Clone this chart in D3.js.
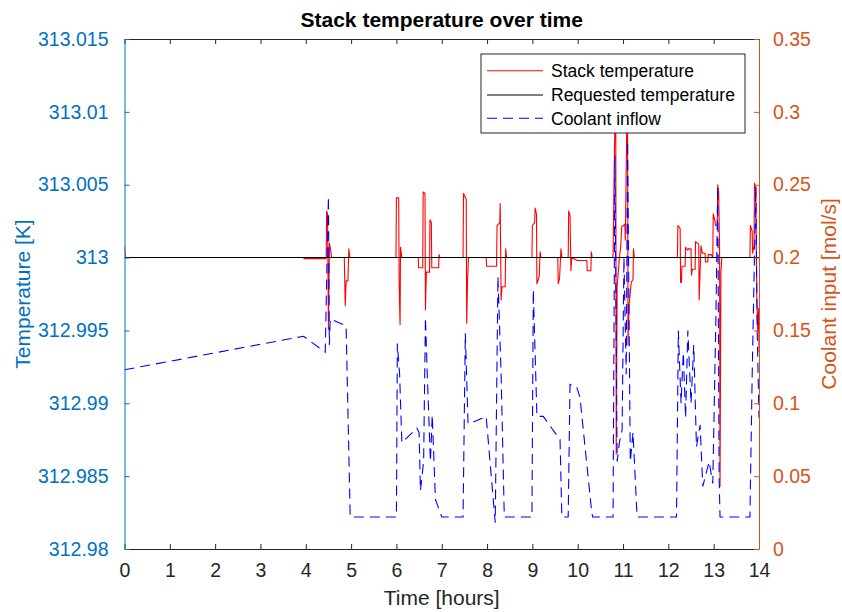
<!DOCTYPE html>
<html>
<head>
<meta charset="utf-8">
<script src="https://cdn.jsdelivr.net/npm/d3@7"></script>
<style>
  html, body { margin: 0; padding: 0; background: #fff; }
  svg { display: block; font-family: "Liberation Sans", Arial, Helvetica, sans-serif; }
</style>
</head>
<body>
<svg id="chart" width="842" height="612"></svg>
<script>
// ---------- data ----------
const stackTime = [0, 0.02, 3.95, 3.96, 4.45, 4.46, 4.48, 4.50, 4.52, 4.55, 4.57, 4.85, 4.87, 4.89, 4.93, 4.95, 4.97,
  5.99, 6.00, 6.05, 6.06, 6.08, 6.09, 6.12, 6.48, 6.49, 6.58, 6.59, 6.63, 6.64, 6.66, 6.73, 6.74, 6.77, 6.78, 6.93, 6.94, 6.96,
  7.47, 7.48, 7.54, 7.55, 7.57, 7.59, 7.98, 7.99, 8.21, 8.22, 8.28, 8.29, 8.31, 8.33, 8.40, 8.41, 8.43,
  8.99, 9.00, 9.05, 9.06, 9.09, 9.10, 9.15, 9.17, 9.19, 9.56, 9.57, 9.60, 9.63, 9.65, 9.79, 9.80, 9.83, 9.85, 9.87,
  9.99, 10.20, 10.21, 10.29, 10.30, 10.32, 10.77, 10.78, 10.80, 10.82, 10.84, 10.85, 10.87, 10.92, 10.95, 10.97, 11.04,
  11.05, 11.08, 11.10, 11.11, 11.13, 11.18, 11.22, 11.23, 11.25,
  12.20, 12.21, 12.26, 12.27, 12.29, 12.30, 12.37, 12.38, 12.43, 12.44, 12.50, 12.51, 12.53, 12.59, 12.60, 12.67, 12.68,
  12.70, 12.72, 12.75, 12.81, 12.82, 12.87, 12.88, 12.95, 12.98, 12.99, 13.03, 13.04, 13.08, 13.09, 13.11, 13.13, 13.14,
  13.16, 13.18, 13.80, 13.81, 13.85, 13.86, 13.89, 13.90, 13.93, 13.95, 13.97, 13.99, 14.0];
const stackTemp = [313.0008, 313.0, 313.0, 312.99993, 312.99993, 313.0032, 313.0030, 312.9951, 313.0010, 313.0005, 313.0, 313.0, 312.9967, 312.9984, 312.9984, 313.0006, 313.0,
  313.0, 313.0041, 313.0041, 312.9982, 312.9954, 313.0007, 313.0, 313.0, 312.9993, 312.9993, 313.0045, 313.0044, 312.9964, 312.9990, 312.9990, 313.0026, 313.0024, 312.9993, 312.9993, 313.0002, 313.0,
  313.0, 313.0044, 313.0040, 312.9955, 312.9985, 313.0, 313.0, 312.9994, 312.9994, 313.0022, 313.0024, 313.0037, 312.9971, 312.9980, 312.9980, 313.0006, 313.0,
  313.0, 313.0022, 313.0024, 313.0034, 313.0030, 312.9982, 312.9987, 313.0004, 313.0, 313.0, 312.9982, 312.9986, 313.0006, 313.0, 313.0, 313.0032, 313.0029, 312.9991, 313.0,
  312.9998, 312.9998, 312.9991, 312.9991, 313.0004, 313.0, 313.0, 313.0002, 313.0050, 313.0092, 313.0090, 312.9865, 312.9980, 313.0, 313.0008, 313.0021, 313.0023,
  313.0012, 313.0085, 313.0092, 312.9940, 312.9966, 312.9983, 312.9985, 313.0006, 313.0,
  313.0, 313.0022, 313.0020, 312.9983, 312.9983, 312.9994, 312.9994, 313.0007, 313.0005, 313.0006, 313.0006, 312.9988, 312.9992, 312.9992, 313.0011, 313.0009, 312.9971,
  312.9990, 313.0008, 313.0003, 313.0003, 312.9997, 312.9997, 313.0002, 313.0002, 313.0, 313.0030, 313.0025, 313.0022, 313.0022, 313.0050, 313.0045, 313.0008, 312.9843,
  312.9990, 313.0, 313.0, 313.0022, 313.0018, 313.0003, 313.0008, 313.0051, 313.0048, 312.9974, 312.9950, 312.9965, 312.9935];

const requestedTime = [0, 14];
const requestedTemp = [313, 313];

const coolTime = [0, 3.95, 4.43, 4.47, 4.50, 4.52, 4.54, 4.89, 4.98, 6.00, 6.02, 6.07, 6.12, 6.45, 6.50, 6.53, 6.60, 6.64, 6.68, 6.75, 6.79, 6.86, 7.00,
  7.47, 7.52, 7.58, 7.69, 7.98, 8.18, 8.24, 8.31, 8.38, 8.99, 9.02, 9.10, 9.24, 9.61, 9.65, 9.79, 9.83, 9.98, 10.05, 10.31, 10.33,
  10.78, 10.82, 10.87, 10.92, 10.98, 11.02, 11.07, 11.10, 11.16, 11.22, 11.31, 12.18, 12.22, 12.28, 12.33, 12.38, 12.43, 12.50, 12.56,
  12.62, 12.70, 12.76, 12.90, 12.98, 13.05, 13.09, 13.12, 13.14, 13.80, 13.85, 13.93, 13.96, 14.0];
const coolFlow = [0.123, 0.146, 0.135, 0.200, 0.242, 0.140, 0.158, 0.153, 0.022, 0.022, 0.141, 0.120, 0.073, 0.083, 0.080, 0.040, 0.060, 0.159, 0.120, 0.060, 0.092, 0.034, 0.022,
  0.022, 0.148, 0.086, 0.087, 0.091, 0.018, 0.187, 0.120, 0.022, 0.022, 0.178, 0.091, 0.091, 0.075, 0.022, 0.022, 0.113, 0.111, 0.104, 0.025, 0.022,
  0.022, 0.270, 0.060, 0.073, 0.082, 0.200, 0.120, 0.280, 0.060, 0.080, 0.022, 0.022, 0.150, 0.100, 0.135, 0.090, 0.150, 0.100, 0.140,
  0.070, 0.085, 0.043, 0.060, 0.045, 0.160, 0.249, 0.050, 0.022, 0.022, 0.120, 0.249, 0.150, 0.090];

const xTicks = [0, 1, 2, 3, 4, 5, 6, 7, 8, 9, 10, 11, 12, 13, 14];
const leftTicks = [312.98, 312.985, 312.99, 312.995, 313, 313.005, 313.01, 313.015];
const leftTickLabels = ["312.98", "312.985", "312.99", "312.995", "313", "313.005", "313.01", "313.015"];
const rightTicks = [0, 0.05, 0.1, 0.15, 0.2, 0.25, 0.3, 0.35];
const rightTickLabels = ["0", "0.05", "0.1", "0.15", "0.2", "0.25", "0.3", "0.35"];

const seriesNames = ["Stack temperature", "Requested temperature", "Coolant inflow"];
const titleText = "Stack temperature over time";
const xLabel = "Time [hours]";
const leftLabel = "Temperature [K]";
const rightLabel = "Coolant input [mol/s]";

// ---------- layout ----------
const L = 124.5, R = 759, T = 39, B = 549;
const axisDark = "#262626", leftCol = "#0072BD", rightCol = "#D95319";

const svg = d3.select("#chart");
const x = d3.scaleLinear().domain([0, 14]).range([L, R]);
const yL = d3.scaleLinear().domain([312.98, 313.015]).range([B, T]);
const yR = d3.scaleLinear().domain([0, 0.35]).range([B, T]);

svg.append("defs").append("clipPath").attr("id", "clip")
  .append("rect").attr("x", L).attr("y", T).attr("width", R - L).attr("height", B - T);

const plot = svg.append("g").attr("clip-path", "url(#clip)");

const stackData = stackTime.map((t, i) => [t, stackTemp[i]]);
const reqData = requestedTime.map((t, i) => [t, requestedTemp[i]]);
const coolData = coolTime.map((t, i) => [t, coolFlow[i]]);

plot.append("path").datum(stackData)
  .attr("fill", "none").attr("stroke", "#FF0000").attr("stroke-width", 1.1).attr("stroke-linejoin", "round")
  .attr("d", d3.line().x(d => x(d[0])).y(d => yL(d[1])));
plot.append("path").datum(reqData)
  .attr("fill", "none").attr("stroke", "#000000").attr("stroke-width", 1.1)
  .attr("d", d3.line().x(d => x(d[0])).y(d => yL(d[1])));
plot.append("path").datum(coolData)
  .attr("fill", "none").attr("stroke", "#0000FF").attr("stroke-width", 1.1).attr("stroke-dasharray", "10,6")
  .attr("d", d3.line().x(d => x(d[0])).y(d => yR(d[1])));

// ---------- axes ----------
const tickFont = 19.5;
const xAxisB = d3.axisBottom(x).tickValues(xTicks).tickFormat(d3.format("d")).tickSizeInner(-5).tickSizeOuter(0).tickPadding(14);
const gxB = svg.append("g").attr("transform", `translate(0,${B})`).call(xAxisB);
gxB.select(".domain").attr("stroke", axisDark).attr("stroke-width", 1);
gxB.selectAll(".tick line").attr("stroke", axisDark);
gxB.selectAll(".tick text").attr("fill", axisDark).style("font-size", tickFont + "px").attr("font-family", null);

const xAxisT = d3.axisTop(x).tickValues(xTicks).tickFormat("").tickSizeInner(-5).tickSizeOuter(0);
const gxT = svg.append("g").attr("transform", `translate(0,${T})`).call(xAxisT);
gxT.select(".domain").attr("stroke", axisDark).attr("stroke-width", 1);
gxT.selectAll(".tick line").attr("stroke", axisDark);

const yAxisL = d3.axisLeft(yL).tickValues(leftTicks).tickFormat((d, i) => leftTickLabels[i]).tickSizeInner(-5).tickSizeOuter(0).tickPadding(16);
const gyL = svg.append("g").attr("transform", `translate(${L},0)`).call(yAxisL);
gyL.select(".domain").attr("stroke", leftCol).attr("stroke-width", 1);
gyL.selectAll(".tick line").attr("stroke", leftCol);
gyL.selectAll(".tick text").attr("fill", leftCol).style("font-size", tickFont + "px").attr("font-family", null);

const yAxisR = d3.axisRight(yR).tickValues(rightTicks).tickFormat((d, i) => rightTickLabels[i]).tickSizeInner(-5).tickSizeOuter(0).tickPadding(14);
const gyR = svg.append("g").attr("transform", `translate(${R},0)`).call(yAxisR);
gyR.select(".domain").attr("stroke", rightCol).attr("stroke-width", 1);
gyR.selectAll(".tick line").attr("stroke", rightCol);
gyR.selectAll(".tick text").attr("fill", rightCol).style("font-size", tickFont + "px").attr("font-family", null);

// ---------- labels ----------
svg.append("text").attr("x", (L + R) / 2).attr("y", 27).attr("text-anchor", "middle")
  .style("font-size", "21px").style("font-weight", "bold").attr("fill", "#000").text(titleText);
svg.append("text").attr("x", (L + R) / 2).attr("y", 605).attr("text-anchor", "middle")
  .style("font-size", "21px").attr("fill", axisDark).text(xLabel);
svg.append("text").attr("transform", `translate(30,${(T + B) / 2}) rotate(-90)`).attr("text-anchor", "middle")
  .style("font-size", "21px").attr("fill", leftCol).text(leftLabel);
svg.append("text").attr("transform", `translate(836,${(T + B) / 2}) rotate(-90)`).attr("text-anchor", "middle")
  .style("font-size", "21px").attr("fill", rightCol).text(rightLabel);

// ---------- legend ----------
const lg = svg.append("g");
lg.append("rect").attr("x", 481).attr("y", 54).attr("width", 264).attr("height", 79)
  .attr("fill", "#fff").attr("stroke", axisDark).attr("stroke-width", 1);
const legendStyles = [
  { color: "#FF0000", dash: null },
  { color: "#000000", dash: null },
  { color: "#0000FF", dash: "10,6" }
];
const rowY = [70.7, 95, 118.3];
seriesNames.forEach((name, i) => {
  const ln = lg.append("line").attr("x1", 487).attr("x2", 543).attr("y1", rowY[i]).attr("y2", rowY[i])
    .attr("stroke", legendStyles[i].color).attr("stroke-width", 1.1);
  if (legendStyles[i].dash) ln.attr("stroke-dasharray", legendStyles[i].dash);
  lg.append("text").attr("x", 551).attr("y", rowY[i] + 6.3).style("font-size", "17.5px").attr("fill", "#000").text(name);
});
</script>
</body>
</html>
